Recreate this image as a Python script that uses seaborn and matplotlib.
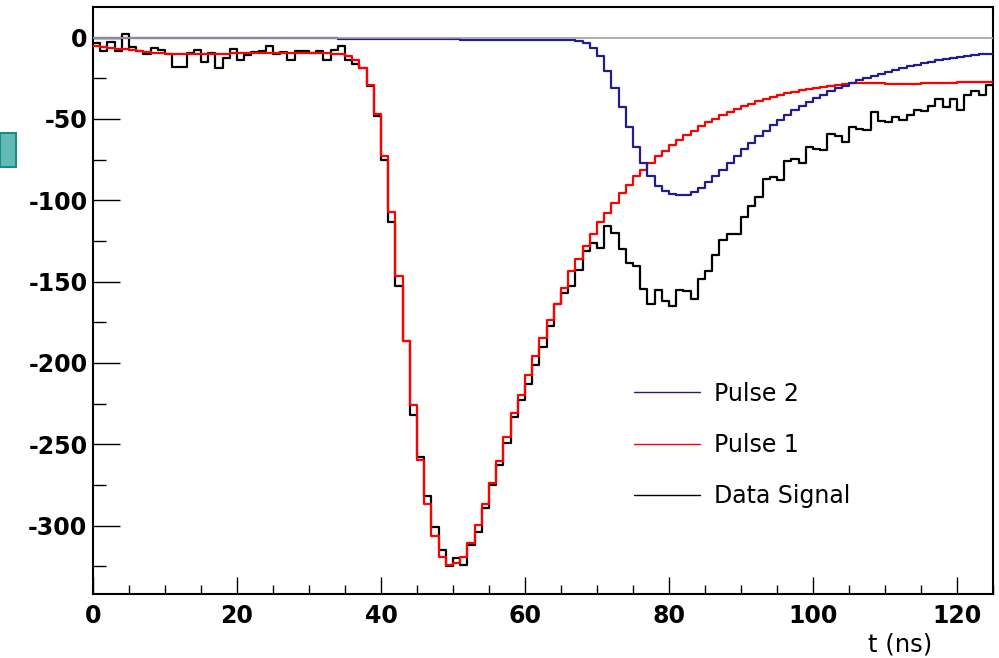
import matplotlib.pyplot as plt
import matplotlib.ticker as mticker
from matplotlib.lines import Line2D
from matplotlib.patches import Rectangle
import numpy as np
import seaborn as sns

# 1 ns bins, edges 0..125 ns
t_edges = np.arange(0, 126)

# measured waveform (black)
data_signal = [
    -3.3, -8.4, -3.0, -8.4, 2.0, -5.7, -8.4, -10.4, -6.4, -7.4,
    -10.4, -18.2, -18.2, -9.4, -7.4, -15.2, -9.4, -18.6, -12.5, -7.0,
    -14.1, -11.0, -9.0, -8.4, -5.3, -9.8, -9.0, -13.5, -8.0, -8.0,
    -9.4, -8.0, -13.5, -7.4, -4.9, -14.0, -16.2, -19.0, -30.0, -48.0,
    -75.0, -113.5, -152.8, -186.6, -232.0, -257.6, -282.0, -301.0, -314.7, -325.0,
    -320.0, -324.0, -312.0, -304.0, -289.0, -275.0, -263.0, -249.0, -233.0, -222.5,
    -213.0, -201.0, -190.0, -177.0, -164.0, -157.0, -152.9, -142.6, -131.3, -126.0,
    -129.3, -116.0, -120.0, -129.9, -138.5, -140.6, -154.5, -164.0, -155.3, -162.0,
    -165.0, -155.0, -156.0, -160.6, -148.3, -143.6, -133.4, -124.6, -121.0, -120.6,
    -110.0, -103.7, -97.9, -86.9, -85.6, -87.7, -76.0, -74.6, -77.4, -67.2,
    -68.8, -69.2, -59.0, -60.2, -64.3, -54.9, -56.1, -57.0, -45.9, -51.4,
    -52.0, -48.7, -50.8, -47.3, -44.7, -45.3, -42.2, -37.7, -42.6, -37.7,
    -44.3, -35.0, -32.6, -35.0, -29.3,
]

# first fitted pulse (red)
pulse1 = [
    -5.1, -5.6, -6.2, -6.8, -7.3, -7.8, -8.4, -8.9, -9.3, -9.6,
    -9.8, -9.9, -10.0, -10.0, -10.0, -10.0, -10.0, -9.9, -9.8, -9.7,
    -9.6, -9.5, -9.4, -9.3, -9.3, -9.3, -9.3, -9.4, -9.4, -9.5,
    -9.5, -9.6, -9.7, -9.8, -10.2, -11.5, -14.0, -19.0, -29.0, -47.0,
    -73.0, -107.4, -146.3, -186.6, -226.0, -259.4, -287.0, -306.5, -319.0, -324.0,
    -323.0, -319.0, -310.6, -299.3, -286.4, -273.7, -260.4, -245.4, -231.0, -220.0,
    -207.7, -196.0, -184.5, -173.5, -163.5, -154.0, -143.6, -136.0, -128.3, -121.0,
    -113.5, -107.8, -101.6, -95.5, -90.4, -85.2, -81.1, -77.0, -73.0, -69.5,
    -65.8, -62.7, -59.6, -57.2, -54.5, -52.0, -49.8, -47.7, -45.7, -43.8,
    -42.2, -40.8, -39.1, -37.7, -36.5, -35.2, -34.2, -33.2, -32.4, -31.5,
    -30.7, -30.1, -29.5, -29.1, -28.5, -28.1, -27.9, -27.9, -27.9, -27.9,
    -28.3, -28.3, -28.3, -28.3, -28.3, -27.9, -27.9, -27.9, -27.9, -27.9,
    -27.3, -27.3, -27.3, -27.3, -27.3,
]

# second fitted pulse (blue)
pulse2 = [
    0.0, 0.0, 0.0, 0.0, 0.0, 0.0, 0.0, 0.0, 0.0, 0.0,
    0.0, 0.0, 0.0, 0.0, 0.0, 0.0, 0.0, 0.0, 0.0, 0.0,
    0.0, 0.0, 0.0, 0.0, 0.0, 0.0, 0.0, 0.0, 0.0, 0.0,
    0.0, 0.0, 0.0, 0.0, -0.8, -0.8, -0.8, -0.8, -0.8, -0.8,
    -0.8, -1.1, -1.1, -1.1, -1.1, -1.1, -1.1, -1.1, -1.1, -1.1,
    -1.1, -1.3, -1.3, -1.3, -1.3, -1.3, -1.3, -1.3, -1.3, -1.3,
    -1.3, -1.3, -1.3, -1.3, -1.3, -1.4, -1.7, -2.3, -3.3, -6.4,
    -11.5, -20.7, -31.0, -42.6, -54.9, -67.2, -77.0, -85.2, -91.4, -94.5,
    -95.9, -96.7, -96.5, -95.1, -92.4, -88.9, -85.2, -81.1, -77.0, -73.0,
    -68.8, -64.7, -60.6, -57.2, -53.9, -50.4, -47.7, -44.7, -41.8, -39.5,
    -37.1, -35.0, -33.0, -31.1, -29.5, -27.9, -26.2, -24.8, -23.4, -22.1,
    -20.9, -19.7, -18.7, -17.6, -16.6, -15.6, -14.8, -13.9, -13.1, -12.5,
    -11.9, -11.3, -10.8, -10.4, -9.8,
]

labels = ['Pulse 2', 'Pulse 1', 'Data Signal']
blue = '#221c8c'
red = '#ff0000'

sns.set_style('white')
plt.rcParams['font.family'] = ['DejaVu Sans']
plt.rcParams['axes.unicode_minus'] = False
plt.rcParams['text.color'] = 'black'
plt.rcParams['axes.labelcolor'] = 'black'
plt.rcParams['xtick.color'] = 'black'
plt.rcParams['ytick.color'] = 'black'


def steps(vals):
    # repeat last bin so the final step is closed at 125 ns
    return np.append(vals, vals[-1])


fig = plt.figure(figsize=(9.99, 6.58), dpi=100)
ax = fig.add_axes([0.0931, 0.0973, 0.9009, 0.8926])

sns.lineplot(x=t_edges, y=steps(data_signal), drawstyle='steps-post', color='black',
             lw=1.6, estimator=None, ax=ax, zorder=2)
sns.lineplot(x=t_edges, y=steps(pulse1), drawstyle='steps-post', color=red,
             lw=1.6, estimator=None, ax=ax, zorder=3)
sns.lineplot(x=t_edges, y=steps(pulse2), drawstyle='steps-post', color=blue,
             lw=1.6, estimator=None, ax=ax, zorder=4)
ax.axhline(0, color='#a0a0a0', lw=1.2, zorder=5)

ax.set_xlim(0, 125)
ax.set_ylim(-342, 19)

xt = np.arange(0, 121, 20)
yt = np.arange(-300, 1, 50)
ax.set_xticks(xt)
ax.set_xticklabels([str(v) for v in xt], fontweight='bold', fontsize=17)
ax.set_yticks(yt)
ax.set_yticklabels([str(v) for v in yt], fontweight='bold', fontsize=17)
ax.xaxis.set_minor_locator(mticker.MultipleLocator(5))
ax.yaxis.set_minor_locator(mticker.MultipleLocator(25))

ax.tick_params(axis='x', which='major', direction='in', length=12.5, width=1, pad=7,
               top=False, bottom=True)
ax.tick_params(axis='x', which='minor', direction='in', length=6.5, width=1,
               top=False, bottom=True)
ax.tick_params(axis='y', which='major', direction='in', length=19.5, width=1, pad=4,
               right=False, left=True)
ax.tick_params(axis='y', which='minor', direction='in', length=9.5, width=1,
               right=False, left=True)

for s in ax.spines.values():
    s.set_color('black')
    s.set_linewidth(1.5)

ax.set_ylabel('')
ax.set_xlabel('t (ns)', fontsize=17.5, loc='right')
ax.xaxis.set_label_coords(0.933, -0.066)

handles = [Line2D([], [], color=blue, lw=1.0),
           Line2D([], [], color=red, lw=1.0),
           Line2D([], [], color='black', lw=1.0)]
ax.legend(handles, labels, loc='upper left', bbox_to_anchor=(0.6346, 0.420),
          bbox_transform=fig.transFigure, frameon=False, fontsize=17,
          handlelength=2.8, handletextpad=0.6, labelspacing=1.15,
          borderpad=0, borderaxespad=0)

# small teal marker at the left edge of the canvas
fig.add_artist(Rectangle((0.0, 1 - 167 / 658), 16 / 999, 34 / 658,
                         transform=fig.transFigure, facecolor='#62b9b5',
                         edgecolor='#1a8c87', lw=1.5))

fig.savefig('out.png', dpi=100)
